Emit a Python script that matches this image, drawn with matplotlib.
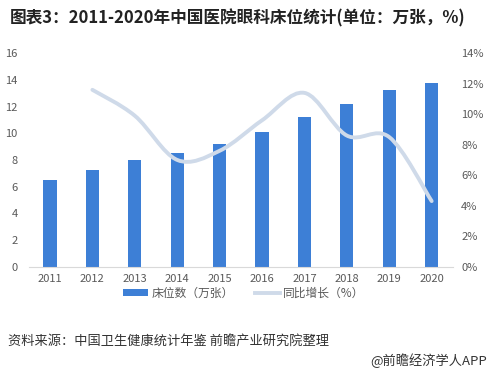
import matplotlib
matplotlib.use('Agg')
import matplotlib.pyplot as plt
from matplotlib.path import Path
from matplotlib.patches import PathPatch
from matplotlib.lines import Line2D
from matplotlib.patches import Patch
import numpy as np

plt.rcParams['font.family'] = ['Noto Sans CJK SC', 'DejaVu Sans']

# ---------------------------------------------------------------------------
# 数据
# ---------------------------------------------------------------------------
years = ['2011', '2012', '2013', '2014', '2015', '2016', '2017', '2018', '2019', '2020']
beds = [6.5, 7.25, 8.0, 8.55, 9.2, 10.1, 11.25, 12.2, 13.25, 13.8]   # 万张
growth = [None, 11.6, 9.9, 7.0, 7.6, 9.6, 11.4, 8.6, 8.5, 4.3]      # %

BAR_COLOR = '#3D7FD6'
LINE_COLOR = '#CFDAE9'
TEXT_COLOR = '#595959'


def smooth_path(xs, ys):
    """Catmull-Rom -> 三次贝塞尔路径 (类似 Excel 平滑线)。"""
    pts = np.column_stack([xs, ys]).astype(float)
    verts = [pts[0]]
    codes = [Path.MOVETO]
    n = len(pts)
    for i in range(n - 1):
        p0 = pts[i - 1] if i > 0 else pts[i]
        p1, p2 = pts[i], pts[i + 1]
        p3 = pts[i + 2] if i + 2 < n else pts[i + 1]
        c1 = p1 + (p2 - p0) / 6.0
        c2 = p2 - (p3 - p1) / 6.0
        verts += [c1, c2, p2]
        codes += [Path.CURVE4] * 3
    return Path(verts, codes)


fig = plt.figure(figsize=(4.88, 3.75), dpi=100)
ax = fig.add_axes([0.059, 0.289, 0.869, 0.569])

x = np.arange(len(years))
ax.bar(x, beds, width=0.31, color=BAR_COLOR, zorder=2)
ax.set_xlim(-0.5, len(years) - 0.5)
ax.set_ylim(0, 16)
ax.set_yticks(range(0, 17, 2))
ax.set_xticks(x)
ax.set_xticklabels(years)

for s in ['top', 'right', 'left']:
    ax.spines[s].set_visible(False)
ax.spines['bottom'].set_color('#D9D9D9')
ax.tick_params(axis='both', length=0, labelsize=8, colors=TEXT_COLOR)
ax.tick_params(axis='x', pad=5)
ax.tick_params(axis='y', pad=8)

ax2 = ax.twinx()
ax2.set_ylim(0, 14)
ax2.set_yticks(range(0, 15, 2))
ax2.set_yticklabels([f'{v}%' for v in range(0, 15, 2)])
for s in ['top', 'right', 'left', 'bottom']:
    ax2.spines[s].set_visible(False)
ax2.tick_params(axis='y', length=0, labelsize=8, colors=TEXT_COLOR, pad=6)

gx = [i for i, g in enumerate(growth) if g is not None]
gy = [g for g in growth if g is not None]
ax2.add_patch(PathPatch(smooth_path(gx, gy), facecolor='none',
                        edgecolor=LINE_COLOR, lw=2.8, capstyle='round', zorder=3))

# 图例
handles = [Patch(facecolor=BAR_COLOR, edgecolor='none'),
           Line2D([0], [0], color=LINE_COLOR, lw=2.8)]
fig.legend(handles, ['床位数（万张）', '同比增长（%）'],
           loc='center', bbox_to_anchor=(0.5, 0.218), ncol=2, frameon=False,
           fontsize=8.5, handlelength=2.1, handleheight=0.6, handletextpad=0.3,
           columnspacing=1.8, labelcolor=TEXT_COLOR)

# 标题与注释
fig.text(0.02, 0.952, '图表3：2011-2020年中国医院眼科床位统计(单位：万张，%)',
         fontsize=12, fontweight='bold', color='#222222', va='center')
fig.text(0.016, 0.09, '资料来源：中国卫生健康统计年鉴 前瞻产业研究院整理',
         fontsize=9.5, color='#333333', va='center')
fig.text(0.997, 0.037, '@前瞻经济学人APP', fontsize=9.5, color='#333333',
         va='center', ha='right')

fig.savefig('out.png', dpi=100, facecolor='white')
